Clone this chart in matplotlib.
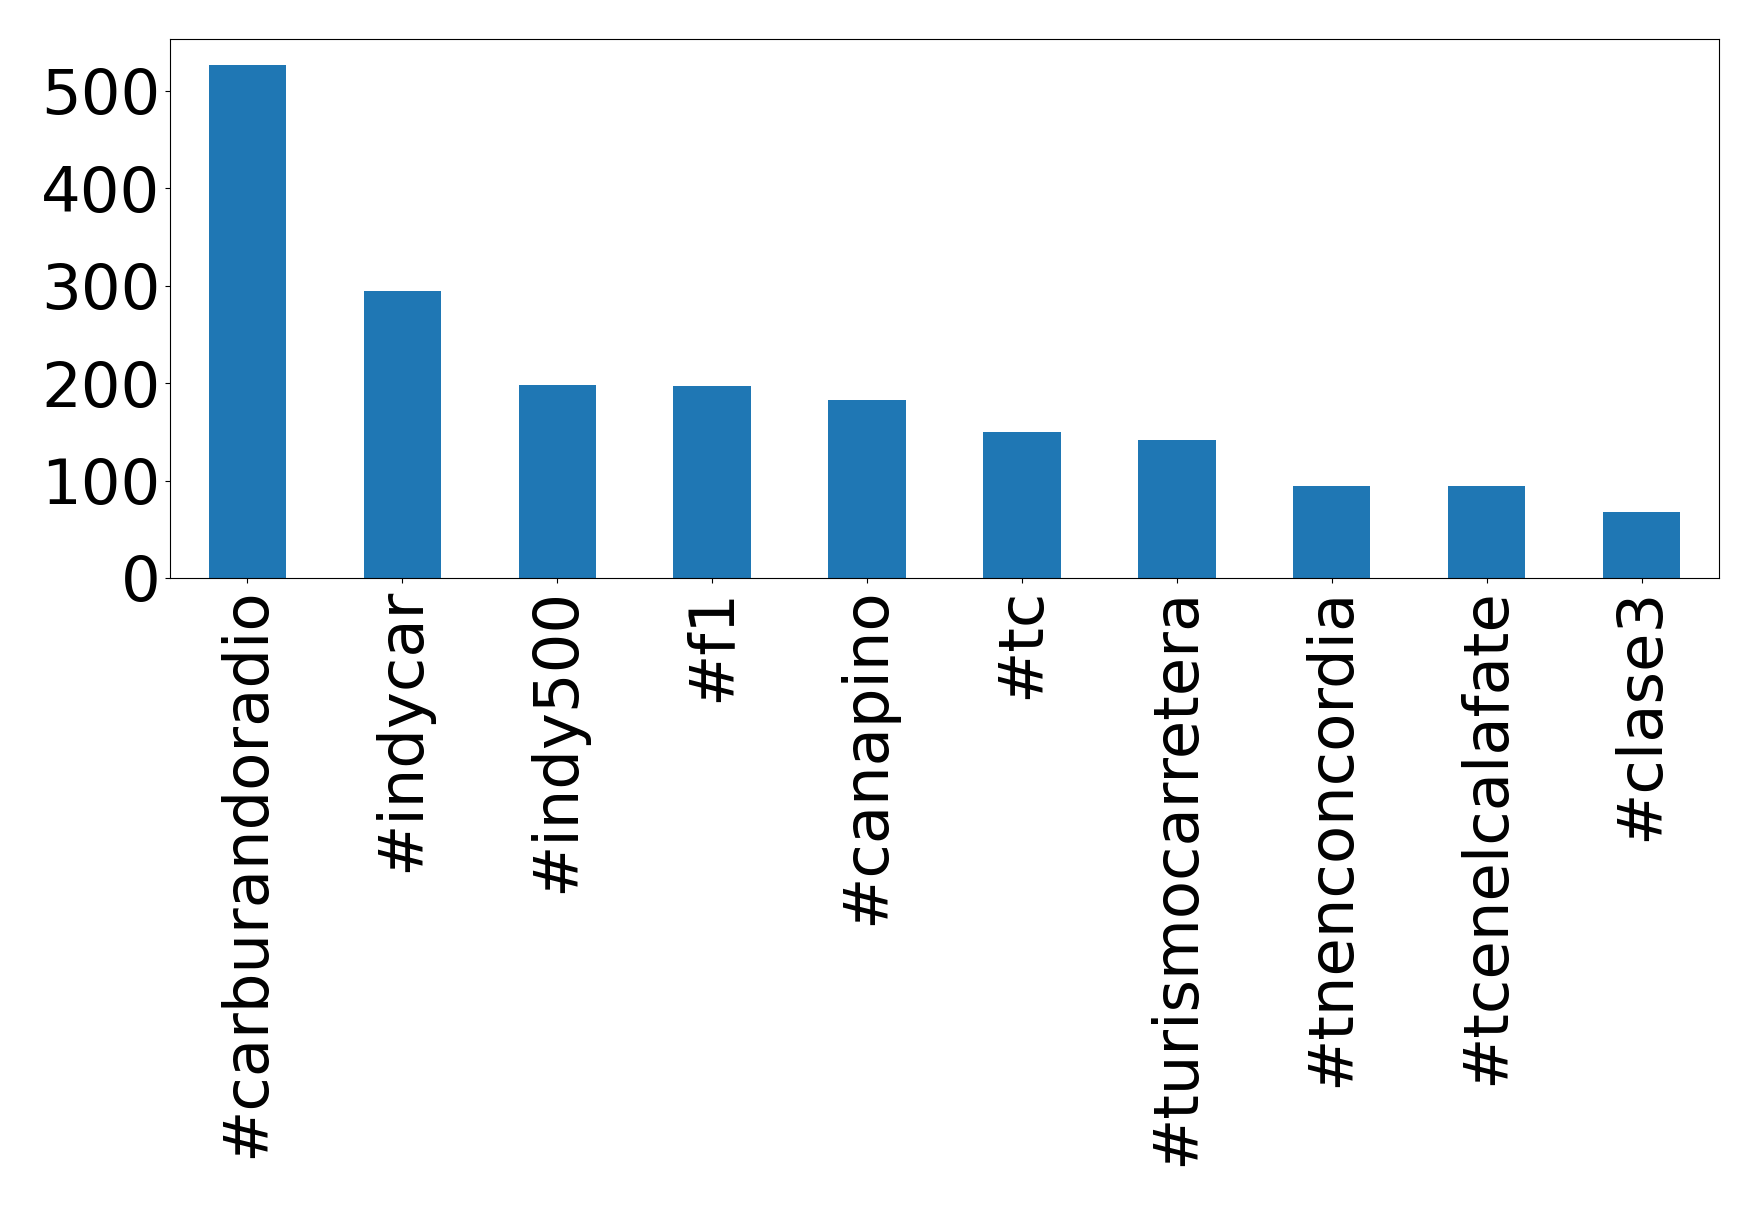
import matplotlib
matplotlib.use("Agg")
import matplotlib.pyplot as plt
from matplotlib.ticker import MultipleLocator
import pandas as pd

# hashtags y frecuencias
hashtags = ["#carburandoradio", "#indycar", "#indy500", "#f1", "#canapino",
            "#tc", "#turismocarretera", "#tnenconcordia", "#tcenelcalafate", "#clase3"]
counts = [527, 295, 198, 197, 183, 150, 142, 94, 94, 68]

word_series = pd.Series(counts, index=hashtags)

fig = plt.figure(figsize=(17.59, 12.06), dpi=100)
ax = fig.add_axes([170 / 1759, 1 - 578 / 1206, (1719 - 170) / 1759, (578 - 39) / 1206])
word_series.plot(kind="bar", ax=ax, color="#1f77b4")
ax.yaxis.set_major_locator(MultipleLocator(100))
ax.tick_params(axis="both", labelsize=45)
plt.setp(ax.get_xticklabels(), rotation=90)

fig.savefig("out.png", dpi=100)
